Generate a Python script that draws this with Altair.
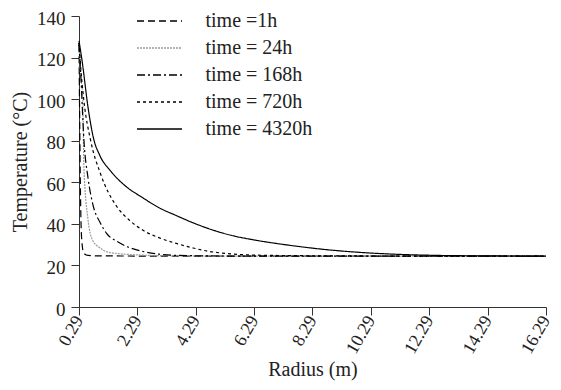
import altair as alt
import pandas as pd

series = ["time =1h", "time = 24h", "time = 168h", "time = 720h", "time = 4320h"]

r_1h = [0.29, 0.31, 0.34, 0.38, 0.45, 0.6, 1.0, 3.0, 6.0, 10.0, 14.0, 16.29]
t_1h = [126, 95, 55, 33, 26, 24.8, 24.6, 24.5, 24.5, 24.5, 24.5, 24.5]

r_24h = [0.29, 0.33, 0.42, 0.46, 0.59, 0.76, 1.0, 1.26, 1.7, 2.27, 3.0, 6.0, 10.0, 14.0, 16.29]
t_24h = [127, 115, 99, 67, 43, 32, 28.5, 26.5, 25.6, 25.1, 24.7, 24.5, 24.5, 24.5, 24.5]

r_168h = [0.29, 0.35, 0.46, 0.6, 0.79, 1.0, 1.26, 1.6, 1.94, 2.4, 3.05, 4.0, 6.0, 10.0, 14.0, 16.29]
t_168h = [127, 112, 80, 62, 48, 41, 35, 31.5, 29, 27, 25.4, 24.7, 24.5, 24.5, 24.5, 24.5]

r_720h = [0.29, 0.35, 0.46, 0.69, 1.03, 1.6, 2.0, 2.47, 3.0, 3.62, 4.2, 4.73, 5.3, 5.84, 7.0, 9.0, 12.0, 16.29]
t_720h = [127, 115, 99, 80, 64, 48, 42, 37, 33.5, 30.6, 28.4, 26.8, 25.8, 25.2, 24.8, 24.6, 24.5, 24.5]

r_4320h = [0.29, 0.4, 0.6, 0.79, 1.0, 1.37, 1.9, 2.47, 3.0, 3.62, 4.2, 4.73, 5.5, 6.4, 7.5, 8.76, 10.0, 11.1, 12.3, 14.0, 16.29]
t_4320h = [128, 118, 96, 81, 73, 65.5, 58, 52.6, 48, 44, 40.5, 37.7, 34.5, 32, 29.7, 27.6, 26.2, 25.4, 24.9, 24.6, 24.5]

x_ticks = [0.29, 2.29, 4.29, 6.29, 8.29, 10.29, 12.29, 14.29, 16.29]
y_ticks = [0, 20, 40, 60, 80, 100, 120, 140]

colors = ["#000000", "#9a9a9a", "#000000", "#000000", "#000000"]
dashes = [[7, 4], [2, 1], [8, 3, 2, 3], [3, 3], [1, 0]]

rows = []
for name, rs, ts in zip(series, [r_1h, r_24h, r_168h, r_720h, r_4320h],
                        [t_1h, t_24h, t_168h, t_720h, t_4320h]):
    for i, (r, t) in enumerate(zip(rs, ts)):
        rows.append({"series": name, "radius": r, "temp": t, "order": i})
df = pd.DataFrame(rows)

FONT = "Liberation Serif"

legend_opts = dict(title=None, orient="none", legendX=70.5, legendY=-5,
                   symbolType="M-5,0H5", symbolSize=81, symbolFillColor="transparent",
                   symbolStrokeWidth=1.3, labelFontSize=20, labelFont=FONT,
                   labelOffset=36, rowPadding=7, labelLimit=300)

chart = alt.Chart(df).mark_line(strokeWidth=1.2, interpolate="monotone").encode(
    x=alt.X("radius:Q",
            scale=alt.Scale(domain=[0.29, 16.29], nice=False, zero=False),
            axis=alt.Axis(values=x_ticks, format=".2f", labelAngle=-60,
                          title="Radius (m)", grid=False, tickSize=8,
                          labelFontSize=18, titleFontSize=20, titleFontWeight="normal",
                          labelPadding=2, titlePadding=3)),
    y=alt.Y("temp:Q",
            scale=alt.Scale(domain=[0, 140], nice=False),
            axis=alt.Axis(values=y_ticks, title="Temperature (°C)", grid=False, tickSize=8,
                          labelFontSize=19, titleFontSize=20, titleFontWeight="normal",
                          labelPadding=6, titlePadding=6, labelOffset=2)),
    color=alt.Color("series:N", scale=alt.Scale(domain=series, range=colors),
                    legend=alt.Legend(**legend_opts)),
    strokeDash=alt.StrokeDash("series:N", scale=alt.Scale(domain=series, range=dashes),
                              legend=alt.Legend(**legend_opts)),
    detail="series:N",
    order="order:Q",
).properties(
    width=467, height=291,
    autosize=alt.AutoSizeParams(type="none"),
    padding={"left": 71, "top": 8, "right": 7, "bottom": 74},
).configure(
    font=FONT
).configure_axis(
    labelFont=FONT, titleFont=FONT, domainColor="#333333", tickColor="#333333",
    labelColor="#222222", titleColor="#222222"
).configure_legend(labelFont=FONT, labelColor="#222222").configure_view(stroke=None)

chart.save("out.html", embed_options={"renderer": "svg", "actions": False})
